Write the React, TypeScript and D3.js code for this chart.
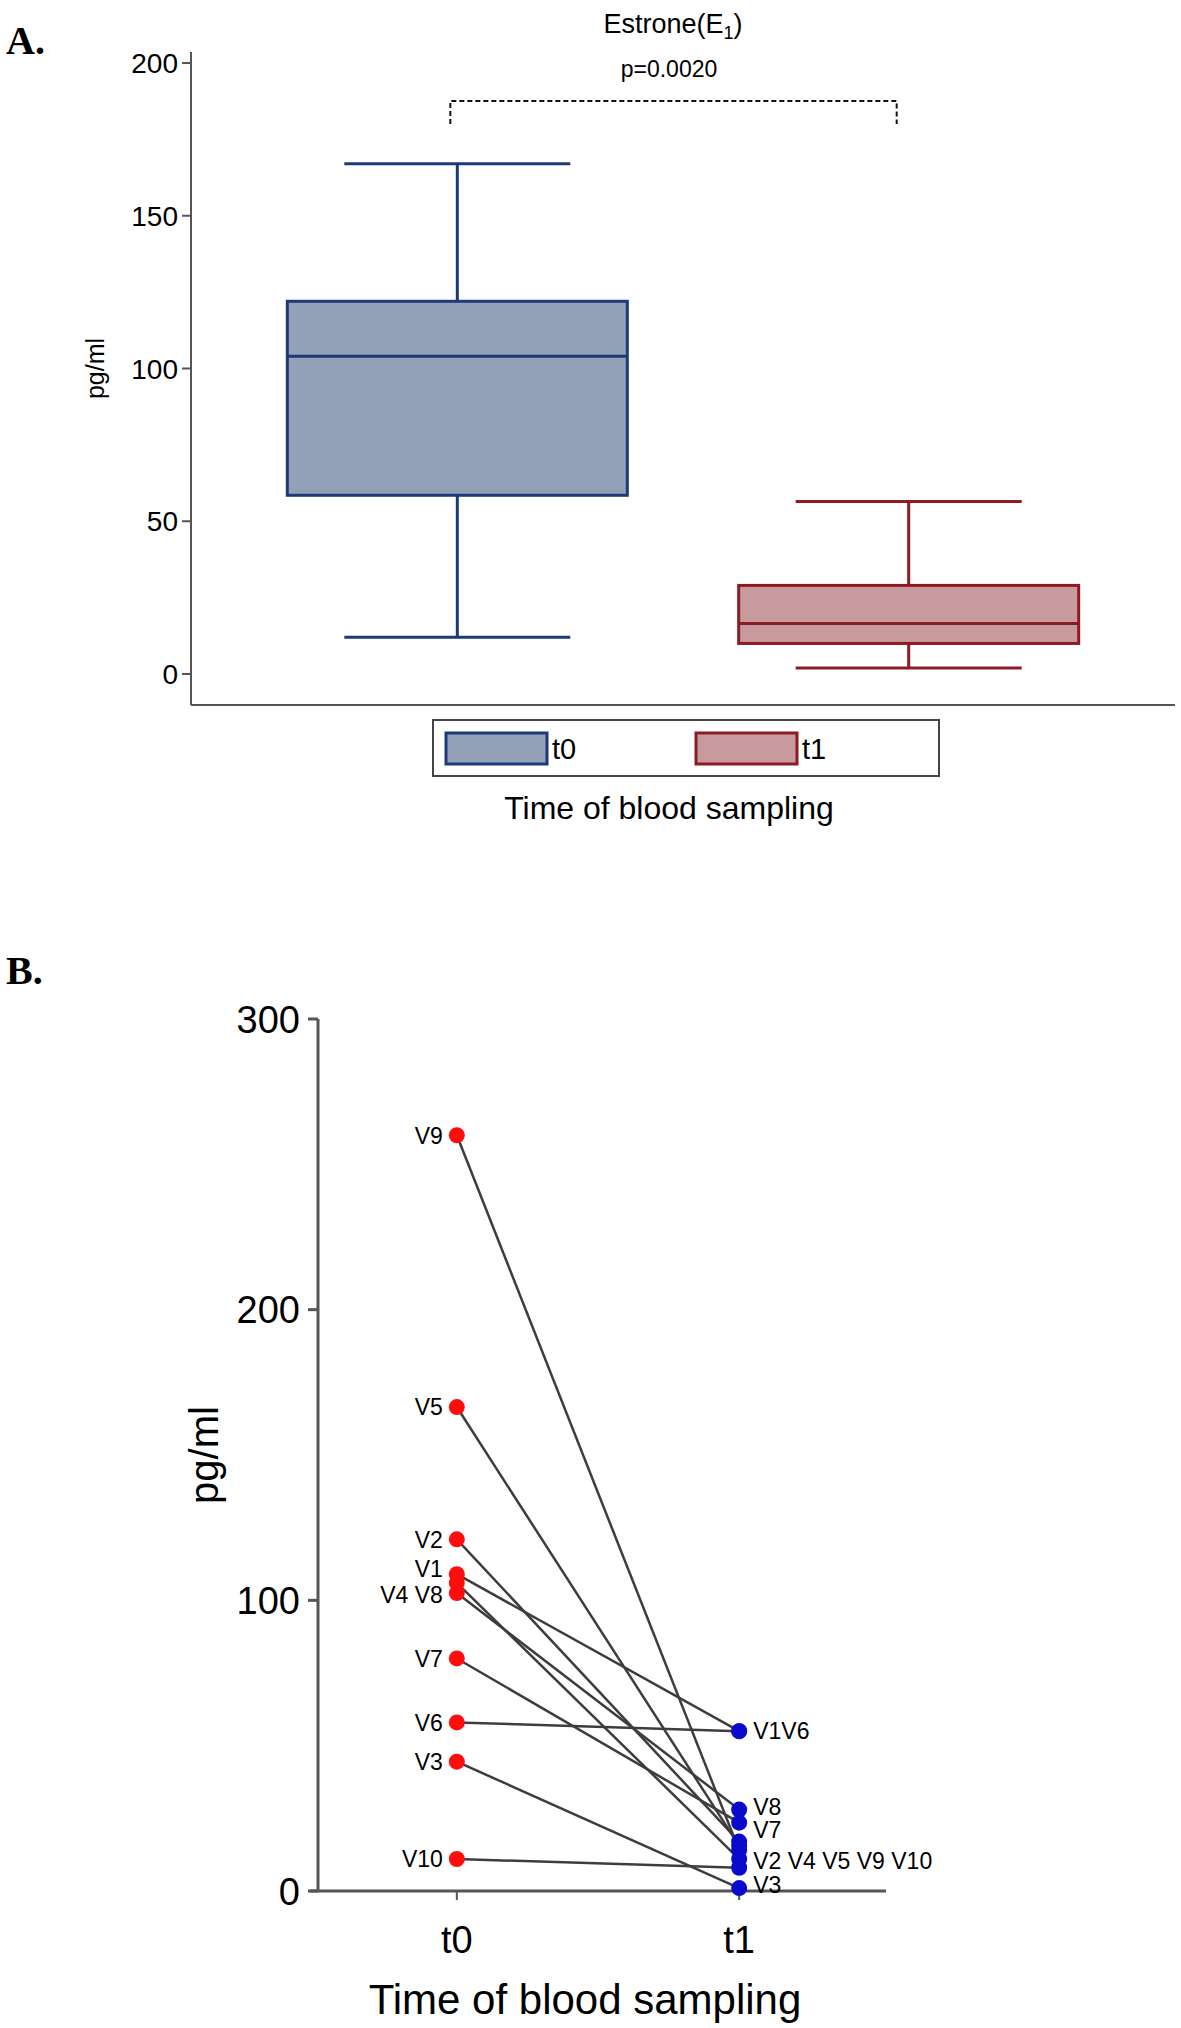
import * as d3 from "d3"

// Panel A – box plot statistics (min, q1, median, q3, max)
const groups = ["t0", "t1"]
const boxT0 = [12, 58.5, 104, 122, 167]
const boxT1 = [2, 10, 16.5, 29, 56.5]
const boxTicks = [0, 50, 100, 150, 200]
const pValue = "p=0.0020"

// Panel B – individual subjects
const subjects = ["V1", "V2", "V3", "V4", "V5", "V6", "V7", "V8", "V9", "V10"]
const valuesT0 = [109, 121, 44.5, 106, 166.5, 58, 80, 102.5, 260, 11]
const valuesT1 = [55, 17, 1, 11, 15.5, 55, 23.5, 28, 14, 8]
const pairTicks = [0, 100, 200, 300]
const labelsT0 = [
  { text: "V9", at: 260 },
  { text: "V5", at: 166.5 },
  { text: "V2", at: 121 },
  { text: "V1", at: 111 },
  { text: "V4 V8", at: 102 },
  { text: "V7", at: 80 },
  { text: "V6", at: 58 },
  { text: "V3", at: 44.5 },
  { text: "V10", at: 11 },
]
const labelsT1 = [
  { text: "V1V6", at: 55 },
  { text: "V8", at: 29 },
  { text: "V7", at: 21 },
  { text: "V2 V4 V5 V9 V10", at: 10.5 },
  { text: "V3", at: 2 },
]

const FONT = "'Liberation Sans', Arial, Helvetica, sans-serif"
const SERIF = "'Liberation Serif', 'Times New Roman', serif"
const fills = { t0: "#94a0b8", t1: "#c89a9d" }
const strokes = { t0: "#1d3a78", t1: "#8c1c24" }

function BoxPanel() {
  const y = d3.scaleLinear().domain([0, 200]).range([674, 63])
  const x = d3.scalePoint<string>().domain(groups).range([191, 1175]).padding(0.59)
  const stats = { t0: boxT0, t1: boxT1 }
  const boxW = 340
  const capW = 226
  const axisX = 191
  const axisBottom = 705

  const bx0 = x("t0")! - 7
  const bx1 = x("t1")! - 12
  const bracketY = 101

  return (
    <g fontFamily={FONT}>
      <text x={6} y={54} fontFamily={SERIF} fontWeight="bold" fontSize={40}>
        A.
      </text>
      {/* title */}
      <text x={673} y={33} fontSize={27} textAnchor="middle">
        <tspan>Estrone(E</tspan>
        <tspan dy={6} fontSize={18}>1</tspan>
        <tspan dy={-6}>)</tspan>
      </text>
      <text x={669} y={77} fontSize={23} textAnchor="middle">{pValue}</text>
      <path
        d={`M${bx0},${bracketY + 23}V${bracketY}H${bx1}V${bracketY + 23}`}
        fill="none"
        stroke="#111"
        strokeWidth={2}
        strokeDasharray="5,3"
      />

      {/* axes */}
      <line x1={axisX} x2={axisX} y1={52} y2={axisBottom} stroke="#555" strokeWidth={2} />
      <line x1={axisX} x2={1175} y1={axisBottom} y2={axisBottom} stroke="#555" strokeWidth={2} />
      {boxTicks.map((t) => (
        <g key={t}>
          <line x1={axisX - 9} x2={axisX} y1={y(t)} y2={y(t)} stroke="#555" strokeWidth={2} />
          <text x={axisX - 13} y={y(t)} dy="0.36em" textAnchor="end" fontSize={28}>
            {t}
          </text>
        </g>
      ))}
      <text transform={`translate(104,${y(100)}) rotate(-90)`} textAnchor="middle" fontSize={25}>
        pg/ml
      </text>

      {/* boxes */}
      {groups.map((g) => {
        const [mn, q1, md, q3, mx] = stats[g as "t0" | "t1"]
        const cx = x(g)!
        const st = strokes[g as "t0" | "t1"]
        return (
          <g key={g} stroke={st} strokeWidth={3}>
            <line x1={cx} x2={cx} y1={y(mx)} y2={y(q3)} />
            <line x1={cx} x2={cx} y1={y(q1)} y2={y(mn)} />
            <line x1={cx - capW / 2} x2={cx + capW / 2} y1={y(mx)} y2={y(mx)} />
            <line x1={cx - capW / 2} x2={cx + capW / 2} y1={y(mn)} y2={y(mn)} />
            <rect
              x={cx - boxW / 2}
              y={y(q3)}
              width={boxW}
              height={y(q1) - y(q3)}
              fill={fills[g as "t0" | "t1"]}
            />
            <line x1={cx - boxW / 2} x2={cx + boxW / 2} y1={y(md)} y2={y(md)} />
          </g>
        )
      })}

      {/* legend */}
      <rect x={433} y={720} width={506} height={56} fill="#fff" stroke="#444" strokeWidth={2} />
      {groups.map((g, i) => {
        const lx = 446 + i * 250
        return (
          <g key={g}>
            <rect
              x={lx}
              y={733}
              width={101}
              height={31}
              fill={fills[g as "t0" | "t1"]}
              stroke={strokes[g as "t0" | "t1"]}
              strokeWidth={3}
            />
            <text x={lx + 106} y={759} fontSize={29}>
              {g}
            </text>
          </g>
        )
      })}
      <text x={669} y={819} textAnchor="middle" fontSize={32}>
        Time of blood sampling
      </text>
    </g>
  )
}

function PairPanel() {
  const y = d3.scaleLinear().domain([0, 300]).range([1891, 1019])
  const x = d3.scalePoint<string>().domain(groups).range([310, 886]).padding(0.52)
  const axisX = 318
  const x0 = x("t0")!
  const x1 = x("t1")!

  return (
    <g fontFamily={FONT}>
      <text x={6} y={984} fontFamily={SERIF} fontWeight="bold" fontSize={40}>
        B.
      </text>
      {/* axes */}
      <line x1={axisX} x2={axisX} y1={y(300)} y2={y(0)} stroke="#555" strokeWidth={3} />
      <line x1={310} x2={886} y1={y(0)} y2={y(0)} stroke="#555" strokeWidth={3} />
      {pairTicks.map((t) => (
        <g key={t}>
          <line x1={axisX - 10} x2={axisX} y1={y(t)} y2={y(t)} stroke="#555" strokeWidth={3} />
          <text x={axisX - 18} y={y(t)} dy="0.36em" textAnchor="end" fontSize={38}>
            {t}
          </text>
        </g>
      ))}
      {groups.map((g) => (
        <g key={g}>
          <line x1={x(g)!} x2={x(g)!} y1={y(0)} y2={y(0) + 9} stroke="#555" strokeWidth={2} />
          <text x={x(g)!} y={y(0) + 62} textAnchor="middle" fontSize={38}>
            {g}
          </text>
        </g>
      ))}
      <text transform={`translate(218,${y(150)}) rotate(-90)`} textAnchor="middle" fontSize={40}>
        pg/ml
      </text>
      <text x={585} y={2014} textAnchor="middle" fontSize={42}>
        Time of blood sampling
      </text>

      {/* paired lines */}
      {subjects.map((s, i) => (
        <line
          key={s}
          x1={x0}
          y1={y(valuesT0[i])}
          x2={x1}
          y2={y(valuesT1[i])}
          stroke="#3d3d3d"
          strokeWidth={2.5}
        />
      ))}
      {subjects.map((s, i) => (
        <circle key={"a" + s} cx={x0} cy={y(valuesT0[i])} r={8} fill="#ff0d0d" />
      ))}
      {subjects.map((s, i) => (
        <circle key={"b" + s} cx={x1} cy={y(valuesT1[i])} r={8} fill="#0a0acc" />
      ))}
      {labelsT0.map((l) => (
        <text key={l.text} x={x0 - 14} y={y(l.at)} dy="0.36em" textAnchor="end" fontSize={23}>
          {l.text}
        </text>
      ))}
      {labelsT1.map((l) => (
        <text key={l.text} x={x1 + 14} y={y(l.at)} dy="0.36em" fontSize={23}>
          {l.text}
        </text>
      ))}
    </g>
  )
}

export default function App() {
  return (
    <svg
      width={1181}
      height={2028}
      style={{ position: "absolute", left: 0, top: 0, background: "#fff" }}
    >
      <rect width={1181} height={2028} fill="#fff" />
      <BoxPanel />
      <PairPanel />
    </svg>
  )
}
